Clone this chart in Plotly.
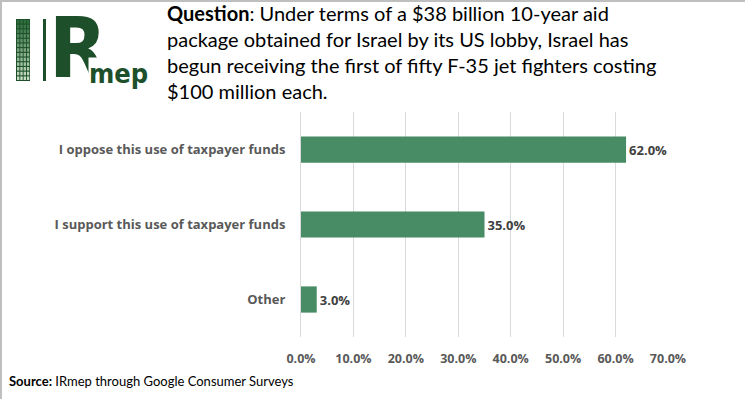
import plotly.graph_objects as go

categories = ["I oppose this use of taxpayer funds", "I support this use of taxpayer funds", "Other"]
values = [0.62, 0.35, 0.03]
tick_vals = [0, 0.1, 0.2, 0.3, 0.4, 0.5, 0.6, 0.7]
tick_text = ["0.0%", "10.0%", "20.0%", "30.0%", "40.0%", "50.0%", "60.0%", "70.0%"]
question = ("<b>Question</b>: Under terms of a $38 billion 10-year aid<br>"
            "package obtained for Israel by its US lobby, Israel has<br>"
            "begun receiving the first of fifty F-35 jet fighters costing<br>"
            "$100 million each.")
source = "<b>Source:</b> IRmep through Google Consumer Surveys"

W, H = 745, 399
L, R, T, B = 301, 77, 112, 62
PW, PH = W - L - R, H - T - B


def px(x):
    return (x - L) / PW


def py(y):
    return (H - B - y) / PH


fig = go.Figure(go.Bar(
    x=values, y=categories, orientation="h",
    marker=dict(color="#478C64"), width=0.35,
    text=[f"{v*100:.1f}%" for v in values], textposition="outside",
    textfont=dict(family="Open Sans", size=13, color="#404040"),
    texttemplate="<b>%{text}</b>", cliponaxis=False,
))

shapes = []
# border (top and left)
shapes.append(dict(type="line", xref="paper", yref="paper", x0=px(0), x1=px(745), y0=py(1), y1=py(1),
                   line=dict(color="#bfbfbf", width=2)))
shapes.append(dict(type="line", xref="paper", yref="paper", x0=px(1), x1=px(1), y0=py(0), y1=py(399),
                   line=dict(color="#bfbfbf", width=2)))
# logo block
shapes.append(dict(type="rect", xref="paper", yref="paper", x0=px(16), x1=px(30), y0=py(81), y1=py(19),
                   fillcolor="#1d4f2a", line=dict(width=0)))
rows, cols = 13, 4
for r in range(rows):
    t = r / (rows - 1)
    c0 = (46, 110, 60)
    c1 = (200, 222, 195)
    col = "rgb(%d,%d,%d)" % tuple(int(a + (b - a) * t) for a, b in zip(c0, c1))
    for c in range(cols):
        x0 = 17 + c * 3.3
        y0 = 20 + r * 4.7
        shapes.append(dict(type="rect", xref="paper", yref="paper", x0=px(x0), x1=px(x0 + 2.4),
                           y0=py(y0 + 3.6), y1=py(y0), fillcolor=col, line=dict(width=0)))
shapes.append(dict(type="rect", xref="paper", yref="paper", x0=px(43), x1=px(46), y0=py(81), y1=py(19),
                   fillcolor="#1d4f2a", line=dict(width=0)))

annotations = [
    dict(text="R", xref="paper", yref="paper", x=px(48), y=py(48), xanchor="left", yanchor="middle",
         showarrow=False, borderpad=0,
         font=dict(family="DejaVu Sans Condensed", size=84, color="#1d4f2a", weight="bold")),
    dict(text="mep", xref="paper", yref="paper", x=px(149), y=py(73), xanchor="right", yanchor="middle",
         showarrow=False, borderpad=0, bgcolor="white",
         font=dict(family="DejaVu Sans Condensed", size=27, color="#1d4f2a", weight="bold")),
    dict(text=question, xref="paper", yref="paper", x=px(165), y=py(-1), xanchor="left", yanchor="top",
         align="left", showarrow=False, font=dict(family="Lato", size=20, color="#000000")),
    dict(text=source, xref="paper", yref="paper", x=px(7), y=py(381), xanchor="left", yanchor="middle",
         align="left", showarrow=False, font=dict(family="Lato", size=13, color="#000000")),
]

fig.update_layout(
    template="none",
    width=W, height=H, margin=dict(l=L, r=R, t=T, b=B),
    paper_bgcolor="white", plot_bgcolor="white",
    showlegend=False, shapes=shapes, annotations=annotations,
    xaxis=dict(range=[0, 0.7], tickvals=tick_vals, ticktext=tick_text, showgrid=True,
               gridcolor="#d9d9d9", gridwidth=1, zeroline=False, showline=False, ticks="",
               tickfont=dict(family="Open Sans", size=12.5, color="#595959", weight="bold"),
               ticklabelstandoff=12, fixedrange=True, automargin=False),
    yaxis=dict(autorange="reversed", showline=True, linecolor="#d9d9d9", linewidth=1, ticks="",
               tickfont=dict(family="Open Sans", size=13, color="#595959", weight="bold"),
               ticklabelstandoff=12, showgrid=False, fixedrange=True, automargin=False),
)

fig.write_html("out.html", config={"displayModeBar": False},
               post_script="document.body.style.margin='0';document.body.style.overflow='hidden';")
